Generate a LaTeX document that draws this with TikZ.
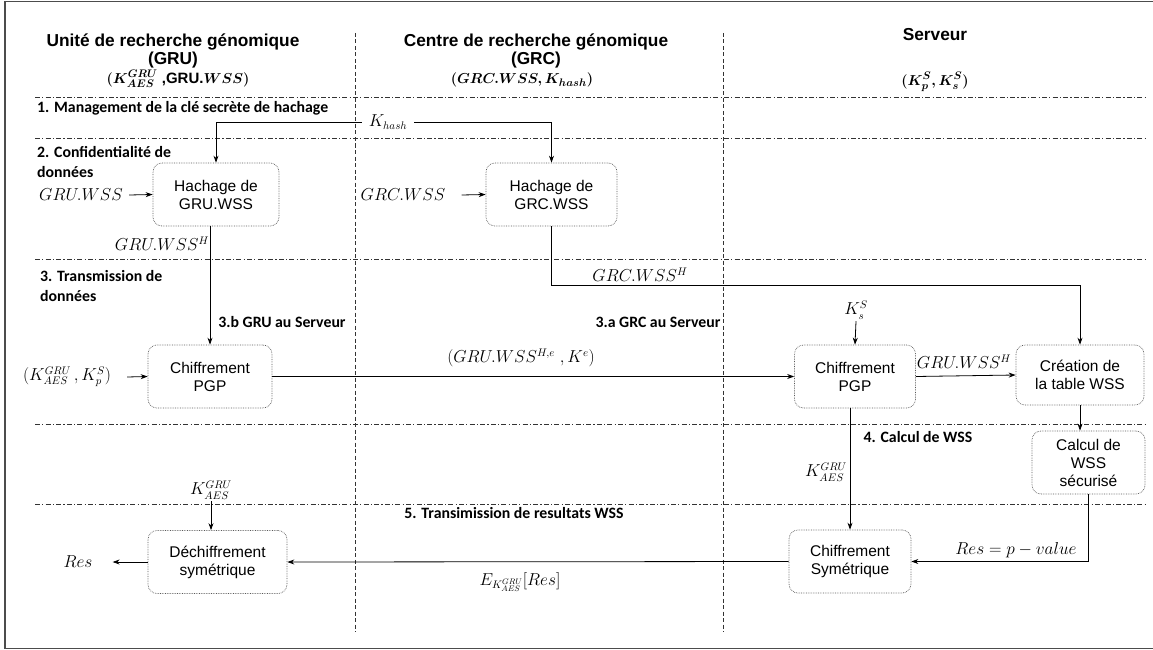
\documentclass[tikz,border=0pt]{standalone}
\usepackage{fontspec}
\setmainfont{Liberation Sans}
\newfontfamily\calfont{Carlito}
\usetikzlibrary{arrows.meta}
\begin{document}
\begin{tikzpicture}[x=1pt,y=-1pt,
  box/.style={draw=black!65, densely dotted, line width=0.7pt, rounded corners=9pt, minimum height=63pt, align=center, inner sep=2pt, font=\fontsize{15.5}{18}\selectfont},
  sepline/.style={line width=0.8pt, black!80, dash pattern=on 5pt off 2.2pt on 1.2pt off 2.2pt},
  vsep/.style={line width=0.8pt, black!80, dash pattern=on 4pt off 2.5pt},
  arr/.style={-{Stealth[length=7pt,width=5pt]}, line width=0.8pt},
  phase/.style={font=\calfont\bfseries\fontsize{15.8}{20}\selectfont, align=left, inner sep=0pt},
  mlab/.style={font=\fontsize{16}{19}\selectfont, inner sep=2pt},
  title/.style={font=\bfseries\fontsize{17.3}{18.5}\selectfont, align=center, inner sep=0pt},
  hkey/.style={font=\bfseries\boldmath\fontsize{15}{17}\selectfont, inner sep=0pt}]
\useasboundingbox (0,0) rectangle (1153,650);
% frame
\draw[line width=1.3pt, black!70] (1153,1.5) -- (5,1.5) -- (5,648.5) -- (1153,648.5);
% separators
\foreach \yy in {97,138,259,424,504} \draw[sepline] (35,\yy) -- (1147,\yy);
\draw[vsep] (355,33) -- (355,632);
\draw[vsep] (723,33) -- (723,632);
% titles
\node[title] (t1) at (173,51) {Unité de recherche génomique\\(GRU)};
\node[hkey] (k1) at (178,79) {$(K_{AES}^{GRU}$ ,GRU.$WSS)$};
\node[title] (t2) at (536,51) {Centre de recherche génomique\\(GRC)};
\node[hkey] (k2) at (522,80) {$(GRC.WSS,K_{hash})$};
\node[title] (t3) at (935,35) {Serveur};
\node[hkey] (k3) at (935,82) {$(K_p^S,K_s^S)$};
% phases
\node[phase, anchor=west] (p1) at (37,108) {1. Management de la clé secrète de hachage};
\node[phase, anchor=west] (p2) at (37,162) {2. Confidentialité de\\données};
\node[phase, anchor=west] (p3) at (40,286) {3. Transmission de\\données};
\node[phase] (p3b) at (282,322) {3.b GRU au Serveur};
\node[phase] (p3a) at (658,322) {3.a GRC au Serveur};
\node[phase] (p4) at (918,437) {4. Calcul de WSS};
\node[phase] (p5) at (514,513) {5. Transimission de resultats WSS};
% boxes
\node[box, minimum width=126pt] (hgru) at (216,194.5) {Hachage de\\GRU.WSS};
\node[box, minimum width=131pt] (hgrc) at (551.5,194.5) {Hachage de\\GRC.WSS};
\node[box, minimum width=124pt] (pgp1) at (210,376.5) {Chiffrement\\PGP};
\node[box, minimum width=121pt] (pgp2) at (855,376.5) {Chiffrement\\PGP};
\node[box, minimum width=128pt, minimum height=60pt] (tab) at (1080,375) {Création de\\la table WSS};
\node[box, minimum width=113pt] (calc) at (1088.5,462.5) {Calcul de\\WSS\\sécurisé};
\node[box, minimum width=122pt] (sym) at (850,561.5) {Chiffrement\\Symétrique};
\node[box, minimum width=139pt] (dec) at (217.5,562) {Déchiffrement\\symétrique};
% labels
\node[mlab, outer xsep=5pt] (khash) at (388,122) {$K_{hash}$};
\node[mlab] (gruwss) at (81,195) {$GRU.WSS$};
\node[mlab] (grcwss) at (403,195) {$GRC.WSS$};
\node[mlab] (gruh) at (162,244) {$GRU.WSS^H$};
\node[mlab] (grch) at (640,275) {$GRC.WSS^H$};
\node[mlab] (kin) at (67,377) {$(K_{AES}^{GRU}\,,K_p^S)$};
\node[mlab] (pgpmsg) at (521,358) {$(GRU.WSS^{H,e}\;,K^e)$};
\node[mlab] (kss) at (856,310) {$K_s^S$};
\node[mlab] (gruh2) at (964,362) {$GRU.WSS^H$};
\node[mlab] (kaes) at (826,472) {$K_{AES}^{GRU}$};
\node[mlab] (resp) at (1016,550) {$Res=p-value$};
\node[mlab] (enc) at (520,582) {$E_{K_{AES}^{GRU}}[Res]$};
\node[mlab] (kdec) at (211,490) {$K_{AES}^{GRU}$};
\node[mlab] (res) at (78,562) {$Res$};
% connectors
\draw[arr] (khash.west) -| (hgru.north);
\draw[arr] (khash.east) -| (hgrc.north);
\draw[arr] ([xshift=4pt]gruwss.east) -- (hgru.west);
\draw[arr] ([xshift=14pt]grcwss.east) -- (hgrc.west);
\draw[arr] (pgp1.north |- hgru.south) -- (pgp1.north);
\draw[arr] (hgrc.south) -- ++(0,59) -| (tab.north);
\draw[arr] ([xshift=14pt]kin.east) -- (pgp1.west);
\draw[arr] (pgp1.east) -- (pgp2.west);
\draw[arr] (kss.south) -- (pgp2.north);
\draw[arr] (pgp2.east) -- (tab.west);
\draw[arr] (tab.south) -- (tab.south |- calc.north);
\draw[arr] (sym.north |- pgp2.south) -- (sym.north);
\draw[arr] (calc.south) |- (sym.east);
\draw[arr] (sym.west) -- (dec.east);
\draw[arr] (kdec.south) -- (kdec.south |- dec.north);
\draw[arr] (dec.west) -- ([xshift=18pt]res.east);
\end{tikzpicture}
\end{document}
